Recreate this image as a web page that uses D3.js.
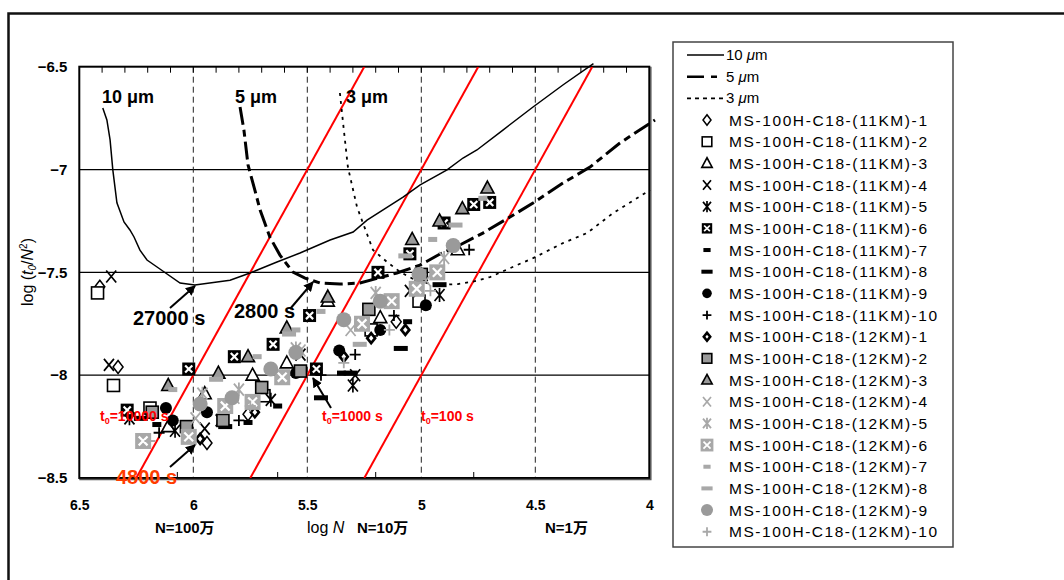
<!DOCTYPE html>
<html><head><meta charset="utf-8">
<script src="https://cdn.jsdelivr.net/npm/d3@7"></script>
<style>
body{margin:0;background:#fff}
svg{display:block}
text{font-family:"Liberation Sans",Arial,"Noto Sans CJK JP",sans-serif}
</style>
</head><body>
<svg id="c" width="1064" height="580"></svg>
<script>
// ---------- data ----------
const xTicks = [6.5, 6, 5.5, 5, 4.5, 4];
const yTicks = [-6.5, -7, -7.5, -8, -8.5];
const xGrid = [6, 5.5, 5, 4.5];
const yGrid = [-7, -7.5, -8];
const bottomTicks = [6.07, 5.63, 5.2, 4.77];
const t0Values = [10000, 1000, 100];
const curveNames = ["10 μm", "5 μm", "3 μm"];

const curve10 = [[6.397,-6.701],[6.379,-6.759],[6.365,-6.856],[6.353,-7.002],[6.335,-7.162],[6.304,-7.255],[6.278,-7.294],[6.260,-7.328],[6.234,-7.392],[6.203,-7.440],[6.159,-7.474],[6.058,-7.552],[5.993,-7.562],[5.839,-7.538],[5.751,-7.503],[5.633,-7.450],[5.532,-7.406],[5.400,-7.343],[5.299,-7.304],[5.238,-7.246],[5.080,-7.134],[5.005,-7.075],[4.887,-7.002],[4.817,-6.944],[4.756,-6.905],[4.642,-6.808],[4.510,-6.696],[4.379,-6.589],[4.245,-6.485]];
const curve5 = [[5.795,-6.696],[5.778,-6.808],[5.760,-6.978],[5.730,-7.100],[5.707,-7.197],[5.664,-7.329],[5.620,-7.416],[5.563,-7.499],[5.510,-7.528],[5.444,-7.552],[5.357,-7.557],[5.269,-7.552],[5.107,-7.503],[5.006,-7.465],[4.918,-7.411],[4.831,-7.367],[4.730,-7.309],[4.611,-7.231],[4.510,-7.163],[4.379,-7.066],[4.260,-6.988],[4.129,-6.871],[3.975,-6.759]];
const curve3 = [[5.357,-6.628],[5.343,-6.774],[5.322,-6.988],[5.282,-7.182],[5.256,-7.260],[5.212,-7.391],[5.150,-7.450],[5.093,-7.498],[5.028,-7.537],[4.940,-7.562],[4.839,-7.557],[4.765,-7.543],[4.699,-7.523],[4.581,-7.465],[4.510,-7.431],[4.379,-7.358],[4.273,-7.309],[4.159,-7.212],[3.997,-7.100]];

const seriesNames = [
 "MS-100H-C18-(11KM)-1","MS-100H-C18-(11KM)-2","MS-100H-C18-(11KM)-3","MS-100H-C18-(11KM)-4","MS-100H-C18-(11KM)-5",
 "MS-100H-C18-(11KM)-6","MS-100H-C18-(11KM)-7","MS-100H-C18-(11KM)-8","MS-100H-C18-(11KM)-9","MS-100H-C18-(11KM)-10",
 "MS-100H-C18-(12KM)-1","MS-100H-C18-(12KM)-2","MS-100H-C18-(12KM)-3","MS-100H-C18-(12KM)-4","MS-100H-C18-(12KM)-5",
 "MS-100H-C18-(12KM)-6","MS-100H-C18-(12KM)-7","MS-100H-C18-(12KM)-8","MS-100H-C18-(12KM)-9","MS-100H-C18-(12KM)-10"];

// [log N, log(t0/N^2)]
const km11_1 = [[6.41,-7.57],[6.33,-7.96],[6.28,-8.19],[5.94,-8.33],[5.76,-8.19],[5.11,-7.74]];
const km11_2 = [[6.42,-7.60],[6.35,-8.05],[6.19,-8.16],[5.69,-8.10],[5.22,-7.78],[5.01,-7.64]];
const km11_3 = [[6.11,-8.25],[5.95,-8.09],[5.74,-8.00],[5.59,-7.94],[5.41,-7.64],[5.18,-7.72],[4.84,-7.39]];
const km11_4 = [[6.36,-7.52],[6.37,-7.95],[5.95,-8.26],[5.88,-8.22],[5.53,-7.90],[5.29,-8.00],[5.05,-7.59]];
const km11_5 = [[6.28,-8.21],[6.08,-8.27],[5.66,-8.12],[5.30,-8.05],[4.92,-7.61]];
const km11_6 = [[6.29,-8.17],[6.02,-7.97],[5.82,-7.91],[5.65,-7.85],[5.49,-7.71],[5.46,-7.97],[5.19,-7.50],[5.05,-7.41],[4.90,-7.26],[4.77,-7.17],[4.70,-7.16]];
const km11_7 = [[6.16,-8.24],[5.76,-8.23],[5.63,-8.15],[5.35,-7.99],[5.06,-7.74],[4.98,-7.67]];
const km11_8 = [[6.23,-8.21],[5.86,-8.25],[5.44,-8.11],[5.31,-7.99],[5.09,-7.87],[4.92,-7.56]];
const km11_9 = [[6.12,-8.16],[6.09,-8.22],[5.94,-8.18],[5.55,-7.99],[5.36,-7.88],[5.18,-7.78],[4.98,-7.66]];
const km11_10 = [[6.15,-8.28],[5.80,-8.22],[5.44,-8.00],[5.29,-7.90],[5.12,-7.71],[4.79,-7.39]];
const km12_1 = [[5.97,-8.31],[5.73,-8.18],[5.34,-7.91],[5.22,-7.82],[5.07,-7.78]];
const km12_2 = [[6.18,-8.18],[6.03,-8.25],[5.87,-8.22],[5.70,-8.06],[5.53,-7.98],[5.23,-7.68],[5.00,-7.51]];
const km12_3 = [[6.11,-8.05],[5.89,-7.99],[5.76,-7.91],[5.59,-7.77],[5.41,-7.62],[5.04,-7.34],[4.92,-7.25],[4.82,-7.19],[4.71,-7.09]];
const km12_4 = [[5.99,-8.21],[5.82,-8.11],[5.53,-7.88],[5.31,-7.78],[4.98,-7.54]];
const km12_5 = [[5.96,-8.09],[5.80,-8.07],[5.55,-7.87],[5.20,-7.60],[4.90,-7.43]];
const km12_6 = [[6.22,-8.32],[6.02,-8.30],[5.86,-8.15],[5.74,-8.13],[5.61,-8.01],[5.26,-7.75],[5.13,-7.64],[5.02,-7.58],[4.93,-7.50]];
const km12_7 = [[6.09,-8.07],[5.72,-7.91],[5.55,-7.78],[5.44,-7.69],[4.95,-7.34],[4.73,-7.14]];
const km12_8 = [[5.90,-8.02],[5.58,-7.80],[5.27,-7.85],[5.07,-7.42],[4.85,-7.27]];
const km12_9 = [[5.97,-8.14],[5.83,-8.11],[5.66,-7.97],[5.55,-7.89],[5.34,-7.73],[5.18,-7.64],[5.01,-7.51],[4.86,-7.37]];
const km12_10 = [[6.19,-8.32],[5.75,-8.15],[5.34,-7.94],[5.14,-7.78],[4.96,-7.59]];

const seriesValues = [km11_1,km11_2,km11_3,km11_4,km11_5,km11_6,km11_7,km11_8,km11_9,km11_10,
                      km12_1,km12_2,km12_3,km12_4,km12_5,km12_6,km12_7,km12_8,km12_9,km12_10];

// ---------- styles ----------
const G = "#9a9a9a", GL = "#a8a8a8";
const styles = [
 {shape:"diamond",fill:"#fff",stroke:"#000",sw:1.5},
 {shape:"square",fill:"#fff",stroke:"#000",sw:1.6},
 {shape:"tri",fill:"#fff",stroke:"#000",sw:1.6},
 {shape:"x",stroke:"#000",sw:1.7},
 {shape:"star",stroke:"#000",sw:1.7},
 {shape:"sqx",fill:"#000"},
 {shape:"dash",fill:"#000",w:9,h:5},
 {shape:"dash",fill:"#000",w:14,h:5},
 {shape:"circle",fill:"#000",r:6},
 {shape:"plus",stroke:"#000",sw:1.8},
 {shape:"diamondS",fill:"#fff",stroke:"#000",sw:2.6},
 {shape:"square",fill:G,stroke:"#000",sw:1.6},
 {shape:"tri",fill:G,stroke:"#000",sw:1.6},
 {shape:"x",stroke:GL,sw:1.7},
 {shape:"star",stroke:GL,sw:1.8},
 {shape:"sqx",fill:GL,big:true},
 {shape:"dash",fill:GL,w:9,h:5},
 {shape:"dash",fill:GL,w:14,h:5},
 {shape:"circle",fill:G,r:7.5},
 {shape:"plus",stroke:GL,sw:1.8}
];

function drawSym(g, st, k){
  k = k || 1;
  switch(st.shape){
    case "diamond":
      g.append("path").attr("d",`M0,${-6.5*k}L${5*k},0L0,${6.5*k}L${-5*k},0Z`).attr("fill",st.fill).attr("stroke",st.stroke).attr("stroke-width",st.sw); break;
    case "diamondS":
      g.append("path").attr("d",`M0,${-5*k}L${4*k},0L0,${5*k}L${-4*k},0Z`).attr("fill",st.fill).attr("stroke",st.stroke).attr("stroke-width",st.sw); break;
    case "square":
      g.append("rect").attr("x",-6*k).attr("y",-6*k).attr("width",12*k).attr("height",12*k).attr("fill",st.fill).attr("stroke",st.stroke).attr("stroke-width",st.sw); break;
    case "tri":
      g.append("path").attr("d",`M0,${-7*k}L${6.5*k},${5*k}L${-6.5*k},${5*k}Z`).attr("fill",st.fill).attr("stroke",st.stroke).attr("stroke-width",st.sw); break;
    case "x":
      g.append("path").attr("d",`M${-5*k},${-6*k}L${5*k},${6*k}M${5*k},${-6*k}L${-5*k},${6*k}`).attr("fill","none").attr("stroke",st.stroke).attr("stroke-width",st.sw); break;
    case "star":
      g.append("path").attr("d",`M${-5*k},${-6*k}L${5*k},${6*k}M${5*k},${-6*k}L${-5*k},${6*k}M0,${-7*k}L0,${7*k}`).attr("fill","none").attr("stroke",st.stroke).attr("stroke-width",st.sw); break;
    case "sqx": {
      const s = (st.big ? 8 : 6.5)*k, c = s*0.55;
      g.append("rect").attr("x",-s).attr("y",-s).attr("width",2*s).attr("height",2*s).attr("fill",st.fill);
      g.append("path").attr("d",`M${-c},${-c}L${c},${c}M${c},${-c}L${-c},${c}`).attr("stroke","#fff").attr("stroke-width",2.2*k).attr("fill","none");
      break; }
    case "dash":
      g.append("rect").attr("x",-st.w/2*k).attr("y",-st.h/2*k).attr("width",st.w*k).attr("height",st.h*k).attr("fill",st.fill); break;
    case "circle":
      g.append("circle").attr("r",st.r*k).attr("fill",st.fill); break;
    case "plus":
      g.append("path").attr("d",`M${-5.5*k},0L${5.5*k},0M0,${-5.5*k}L0,${5.5*k}`).attr("fill","none").attr("stroke",st.stroke).attr("stroke-width",st.sw); break;
  }
}

// ---------- layout ----------
const svg = d3.select("#c");
svg.append("rect").attr("width",1064).attr("height",580).attr("fill","#fff");
const L = 79.3, R = 649.3, T = 66.7, B = 478;
const x = d3.scaleLinear().domain([6.5,4]).range([L,R]);
const y = d3.scaleLinear().domain([-6.5,-8.5]).range([T,B]);

const defs = svg.append("defs");
defs.append("clipPath").attr("id","plotclip").append("rect").attr("x",L).attr("y",T).attr("width",R-L).attr("height",B-T);
defs.append("marker").attr("id","arr").attr("viewBox","0 0 10 10").attr("refX",9).attr("refY",5)
  .attr("markerWidth",5).attr("markerHeight",5).attr("orient","auto")
  .append("path").attr("d","M0,0L10,5L0,10Z").attr("fill","#000");

// outer frame (right/bottom cut off)
svg.append("path").attr("d","M8.5,580V13.5H1064").attr("fill","none").attr("stroke","#111").attr("stroke-width",2.5);

// grid
svg.append("g").selectAll("line").data(yGrid).join("line")
  .attr("x1",L).attr("x2",R).attr("y1",d=>y(d)).attr("y2",d=>y(d)).attr("stroke","#000").attr("stroke-width",1.2);
svg.append("g").selectAll("line").data(xGrid).join("line")
  .attr("y1",T).attr("y2",B).attr("x1",d=>x(d)).attr("x2",d=>x(d)).attr("stroke","#222").attr("stroke-width",1).attr("stroke-dasharray","6,4");

// top minor ticks
const minor = d3.range(1,25).map(i=>+(6.5-i*0.1).toFixed(1));
svg.append("g").selectAll("line").data(minor).join("line")
  .attr("x1",d=>x(d)).attr("x2",d=>x(d)).attr("y1",T).attr("y2",T+6).attr("stroke","#000").attr("stroke-width",1);
svg.append("g").selectAll("line").data(bottomTicks).join("line")
  .attr("x1",d=>x(d)).attr("x2",d=>x(d)).attr("y1",B).attr("y2",B-6).attr("stroke","#000").attr("stroke-width",1);

// plot border
svg.append("rect").attr("x",L).attr("y",T).attr("width",R-L).attr("height",B-T).attr("fill","none").attr("stroke","#000").attr("stroke-width",2);
svg.append("path").attr("d",`M${R+1.5},${T}V${B+1.5}H${L}`).attr("fill","none").attr("stroke","#555").attr("stroke-width",1.5);

// axes labels
const fmt = d3.format("");
const ax = svg.append("g").attr("transform",`translate(0,${B})`)
  .call(d3.axisBottom(x).tickValues(xTicks).tickSize(0).tickPadding(22).tickFormat(fmt));
ax.select(".domain").remove();
ax.selectAll("text").attr("font-size",14).attr("font-weight","bold").attr("fill","#000")
  .style("font-family","'Liberation Sans',Arial,sans-serif");
const ay = svg.append("g").attr("transform",`translate(${L},0)`)
  .call(d3.axisLeft(y).tickValues(yTicks).tickSize(0).tickPadding(12).tickFormat(fmt));
ay.select(".domain").remove();
ay.selectAll("text").attr("font-size",15).attr("font-weight","bold").attr("fill","#000")
  .style("font-family","'Liberation Sans',Arial,sans-serif");

// red t0 lines: log(t0/N^2) = log t0 - 2 log N, clipped to plot
const redG = svg.append("g").attr("clip-path","url(#plotclip)");
t0Values.forEach(t=>{
  const lt = Math.log10(t);
  const xa = (lt + 8.5)/2, xb = (lt + 6.5)/2;
  redG.append("line").attr("x1",x(xa)).attr("y1",y(-8.5)).attr("x2",x(xb)).attr("y2",y(-6.5))
    .attr("stroke","#ff0000").attr("stroke-width",2);
});

// curves
const line = d3.line().x(d=>x(d[0])).y(d=>y(d[1])).curve(d3.curveLinear);
svg.append("path").datum(curve10).attr("d",line).attr("fill","none").attr("stroke","#000").attr("stroke-width",1.5);
svg.append("path").datum(curve5).attr("d",line).attr("fill","none").attr("stroke","#000").attr("stroke-width",3).attr("stroke-dasharray","18,5,7,5");
svg.append("path").datum(curve3).attr("d",line).attr("fill","none").attr("stroke","#000").attr("stroke-width",1.8).attr("stroke-dasharray","3,5");

// scatter
seriesValues.forEach((vals,i)=>{
  const g = svg.append("g");
  vals.forEach(v=>{
    const mg = g.append("g").attr("transform",`translate(${x(v[0])},${y(v[1])})`);
    drawSym(mg, styles[i], 1);
  });
});

// annotations
function bold(tx,xx,yy,size,col){
  return svg.append("text").attr("x",xx).attr("y",yy).attr("font-size",size).attr("font-weight","bold").attr("fill",col||"#000").text(tx);
}
bold("10 μm",102,103,18);
bold("5 μm",235,103,18);
bold("3 μm",346,103,18);
bold("27000 s",133,325,20);
bold("2800 s",234,318,20);
bold("4800 s",116,484,20,"#ff3c00");
function t0label(val,xx){
  const t = svg.append("text").attr("x",xx).attr("y",421).attr("font-size",14).attr("font-weight","bold").attr("fill","#ff0000");
  t.append("tspan").text("t");
  t.append("tspan").attr("font-size",9).attr("dy",3).text("0");
  t.append("tspan").attr("dy",-3).text("=" + val + " s");
}
t0label(t0Values[0],100);
t0label(t0Values[1],322);
t0label(t0Values[2],421);

const arrows = [[170,308,195,286],[290,309,313,282],[170,467,195,445],[331,408,313,378]];
arrows.forEach(a=>{
  svg.append("line").attr("x1",a[0]).attr("y1",a[1]).attr("x2",a[2]).attr("y2",a[3])
    .attr("stroke","#000").attr("stroke-width",2).attr("marker-end","url(#arr)");
});

// axis titles
const xt = svg.append("text").attr("x",307).attr("y",533).attr("font-size",16).attr("fill","#000");
xt.append("tspan").text("log ");
xt.append("tspan").attr("font-style","italic").text("N");
bold("N=100万",155,533,15);
bold("N=10万",357,533,15);
bold("N=1万",545,533,15);

const yt = svg.append("text").attr("transform","translate(33,272) rotate(-90)").attr("text-anchor","middle").attr("font-size",16).attr("fill","#000");
yt.append("tspan").text("log (");
yt.append("tspan").attr("font-style","italic").text("t");
yt.append("tspan").attr("font-size",10).attr("dy",3).attr("font-style","italic").text("0");
yt.append("tspan").attr("dy",-3).text("/");
yt.append("tspan").attr("font-style","italic").text("N");
yt.append("tspan").attr("font-size",10).attr("dy",-6).text("2");
yt.append("tspan").attr("dy",6).text(")");

// legend
svg.append("rect").attr("x",673).attr("y",42).attr("width",280).attr("height",505)
  .attr("fill","#fff").attr("stroke","#444").attr("stroke-width",1.5);
const rowY = i => 55 + i*21.67;
const lineStyles = [
  {w:1.5,dash:null},{w:2.5,dash:"17,7,6,20"},{w:1.8,dash:"4,4"}
];
curveNames.forEach((n,i)=>{
  const yy = rowY(i);
  svg.append("line").attr("x1",687).attr("x2",724).attr("y1",yy).attr("y2",yy)
    .attr("stroke","#000").attr("stroke-width",lineStyles[i].w).attr("stroke-dasharray",lineStyles[i].dash);
  const parts = n.split(" ");
  const t = svg.append("text").attr("x",726).attr("y",yy+5).attr("font-size",15).attr("fill","#000");
  t.append("tspan").text(parts[0] + (i<2?"  ":" "));
  t.append("tspan").attr("font-style","italic").text("μ");
  t.append("tspan").text("m");
});
seriesNames.forEach((n,i)=>{
  const yy = rowY(i+3);
  const g = svg.append("g").attr("transform",`translate(707,${yy})`);
  drawSym(g, styles[i], 0.8);
  svg.append("text").attr("x",729).attr("y",yy+5.5).attr("font-size",15.5).attr("fill","#000")
    .attr("textLength", n.endsWith("-10") ? 208 : 198).attr("lengthAdjust","spacing").text(n);
});
</script>
</body></html>
